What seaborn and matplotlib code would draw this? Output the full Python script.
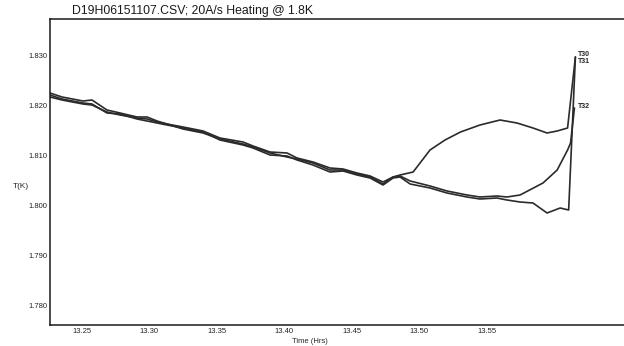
import matplotlib
matplotlib.use("Agg")
import pandas as pd
import seaborn as sns
import matplotlib.pyplot as plt

# values (time in hours, temperature in K)
trunk_time = [13.2265, 13.2354, 13.2510, 13.2576, 13.2687, 13.2784, 13.2910, 13.2984,
              13.3058, 13.3132, 13.3250, 13.3399, 13.3524, 13.3695, 13.3769, 13.3895,
              13.4021, 13.4095, 13.4213, 13.4339, 13.4436, 13.4539, 13.4636, 13.4732,
              13.4806]

t30_trunk = [1.8226, 1.8218, 1.8210, 1.8212, 1.8192, 1.8186, 1.8178, 1.8178, 1.8170,
             1.8164, 1.8158, 1.8150, 1.8136, 1.8128, 1.8120, 1.8108, 1.8106, 1.8096,
             1.8088, 1.8076, 1.8074, 1.8066, 1.8060, 1.8048, 1.8058]
t31_trunk = [1.8222, 1.8214, 1.8206, 1.8204, 1.8186, 1.8184, 1.8174, 1.8170, 1.8166,
             1.8162, 1.8156, 1.8148, 1.8132, 1.8122, 1.8116, 1.8102, 1.8100, 1.8092,
             1.8082, 1.8068, 1.8070, 1.8062, 1.8056, 1.8042, 1.8056]
t32_trunk = [1.8218, 1.8212, 1.8204, 1.8202, 1.8188, 1.8182, 1.8176, 1.8174, 1.8168,
             1.8164, 1.8154, 1.8146, 1.8134, 1.8124, 1.8118, 1.8106, 1.8098, 1.8094,
             1.8086, 1.8072, 1.8072, 1.8064, 1.8058, 1.8044, 1.8058]

t30_tail_time = [13.4858, 13.4955, 13.5080, 13.5191, 13.5306, 13.5450, 13.5599, 13.5724,
                 13.5843, 13.5947, 13.6022, 13.6099, 13.6157]
t30_tail = [1.8062, 1.8068, 1.8112, 1.8132, 1.8148, 1.8162, 1.8172, 1.8166,
            1.8156, 1.8146, 1.8150, 1.8156, 1.8298]

t31_tail_time = [13.4858, 13.4933, 13.5080, 13.5206, 13.5354, 13.5450, 13.5576, 13.5650,
                 13.5747, 13.5843, 13.5947, 13.6044, 13.6107, 13.6157]
t31_tail = [1.8058, 1.8044, 1.8036, 1.8026, 1.8018, 1.8014, 1.8016, 1.8012,
            1.8008, 1.8006, 1.7986, 1.7996, 1.7992, 1.8298]

t32_tail_time = [13.4858, 13.4933, 13.5080, 13.5206, 13.5354, 13.5450, 13.5576, 13.5650,
                 13.5747, 13.5917, 13.6022, 13.6099, 13.6121, 13.6150]
t32_tail = [1.8060, 1.8050, 1.8040, 1.8030, 1.8022, 1.8018, 1.8020, 1.8018,
            1.8022, 1.8046, 1.8072, 1.8112, 1.8126, 1.8196]

y_ticks = [1.780, 1.790, 1.800, 1.810, 1.820, 1.830]
x_ticks = [13.25, 13.30, 13.35, 13.40, 13.45, 13.50, 13.55]

series = {
    "T30": (trunk_time + t30_tail_time, t30_trunk + t30_tail),
    "T31": (trunk_time + t31_tail_time, t31_trunk + t31_tail),
    "T32": (trunk_time + t32_tail_time, t32_trunk + t32_tail),
}
frames = []
for name, (tt, vv) in series.items():
    frames.append(pd.DataFrame({"time": tt, "temp": vv, "sensor": name}))
df = pd.concat(frames, ignore_index=True)

sns.set_style("white")
plt.rcParams['font.family'] = ['Liberation Sans', 'DejaVu Sans']

fig = plt.figure(figsize=(6.24, 3.46), dpi=100)
ax = fig.add_axes([50 / 624, 21 / 346, 574 / 624, 306 / 346])

sns.lineplot(data=df, x="time", y="temp", units="sensor", estimator=None,
             color="#2b2b2b", linewidth=1.2, sort=False, ax=ax)

ax.set_xlim(13.2265, 13.6517)
ax.set_ylim(1.7762, 1.8374)
ax.set_xticks(x_ticks)
ax.set_xticklabels([f"{v:.2f}" for v in x_ticks], fontsize=5.5)
ax.set_yticks(y_ticks)
ax.set_yticklabels([f"{v:.3f}" for v in y_ticks], fontsize=5.5)
ax.tick_params(direction="in", length=3, width=0.8, pad=2, colors="#222222")
ax.tick_params(axis="x", pad=2)

for side in ["left", "bottom", "top"]:
    ax.spines[side].set_color("#1a1a1a")
    ax.spines[side].set_linewidth(1.1)
ax.spines["right"].set_visible(False)

ax.set_xlabel("Time (Hrs)", fontsize=5.5)
ax.xaxis.set_label_coords(0.452, -0.042)
ax.set_ylabel("T(K)", fontsize=6, rotation=0)
ax.yaxis.set_label_coords(-0.05, 0.44)

ax.text(0.038, 1.005, "D19H06151107.CSV; 20A/s Heating @ 1.8K",
        transform=ax.transAxes, fontsize=8.8, ha="left", va="bottom", color="#1a1a1a")

label_pos = {"T30": 1.8304, "T31": 1.8289, "T32": 1.8198}
for name, yv in label_pos.items():
    ax.text(13.6175, yv, name, fontsize=5, fontweight="bold", ha="left", va="center")

fig.savefig("out.png", dpi=100)
